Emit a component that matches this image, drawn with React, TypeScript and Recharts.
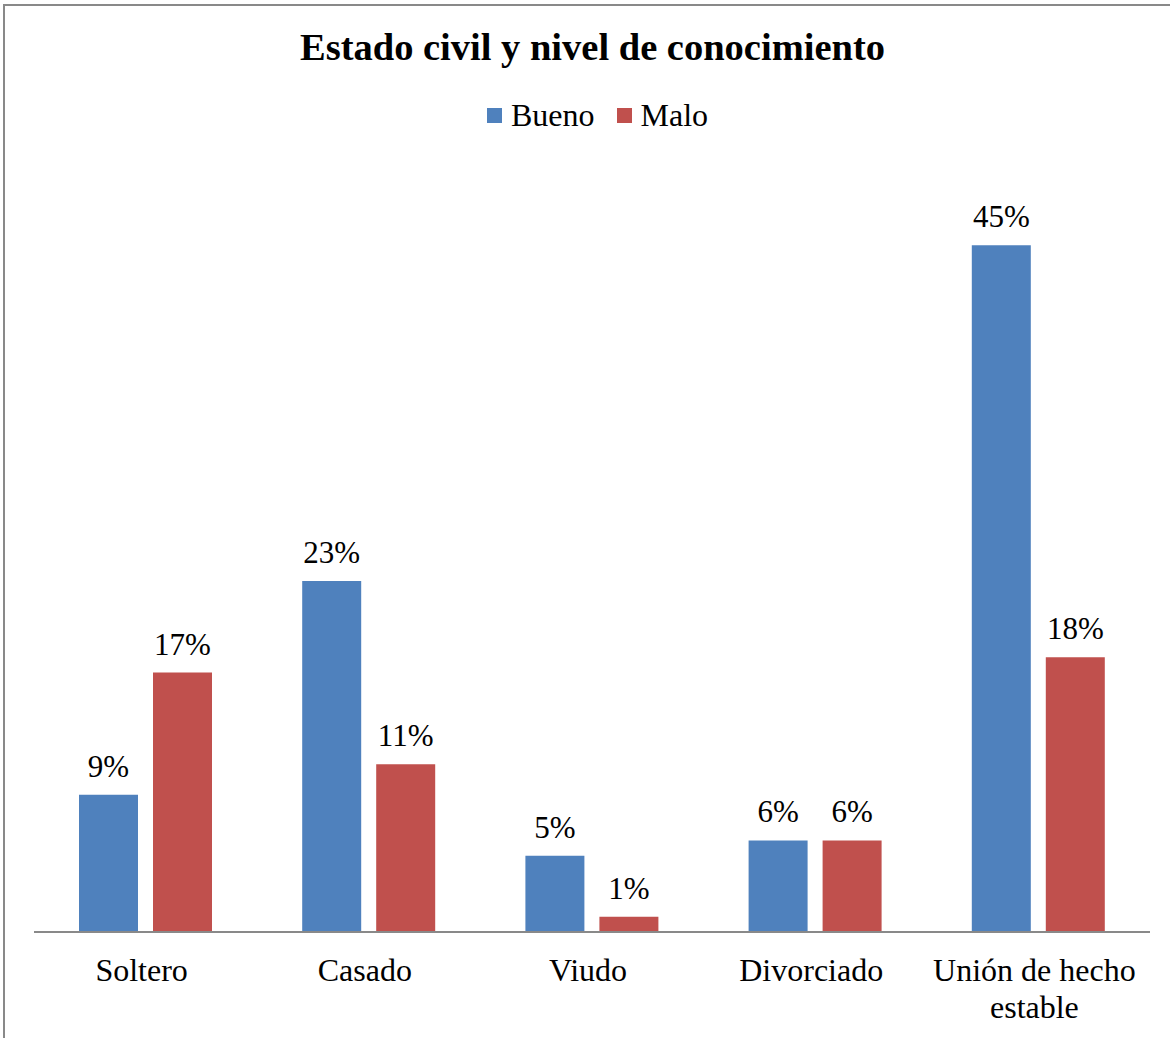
import { BarChart, Bar, XAxis, YAxis, LabelList } from 'recharts';

const categories = ['Soltero', 'Casado', 'Viudo', 'Divorciado', 'Unión de hecho estable'];
const bueno = [9, 23, 5, 6, 45];
const malo = [17, 11, 1, 6, 18];
const seriesNames = ['Bueno', 'Malo'];
const seriesColors = ['#4F81BD', '#C0504D'];

const data = categories.map((name, i) => ({ name, bueno: bueno[i], malo: malo[i] }));

const FONT = '"Liberation Serif", "Times New Roman", serif';

// wraps the long category name into two lines like the original
function CategoryTick(props: any) {
  const { y, payload } = props;
  const x = props.x - 4;
  const label: string = payload.value;
  const lines = label.length > 14 ? ['Unión de hecho', 'estable'] : [label];
  return (
    <text x={x} y={y} textAnchor="middle" fontFamily={FONT} fontSize={32} fill="#000">
      {lines.map((l, i) => (
        <tspan key={i} x={x} dy={i === 0 ? 41 : 37}>
          {l}
        </tspan>
      ))}
    </text>
  );
}

export default function App() {
  return (
    <div
      style={{
        position: 'absolute',
        left: 0,
        top: 0,
        width: 1170,
        height: 1038,
        overflow: 'hidden',
        background: '#fff',
        fontFamily: FONT,
      }}
    >
      {/* chart frame, only top and left edges are visible */}
      <div
        style={{
          position: 'absolute',
          left: 3,
          top: 4,
          width: 1300,
          height: 1200,
          borderTop: '2px solid #898989',
          borderLeft: '2px solid #898989',
        }}
      />
      <div
        style={{
          position: 'absolute',
          left: 0,
          width: 1185,
          top: 24,
          textAlign: 'center',
          fontSize: 38.5,
          fontWeight: 'bold',
          lineHeight: '46px',
          color: '#000',
        }}
      >
        Estado civil y nivel de conocimiento
      </div>
      <div
        style={{
          position: 'absolute',
          left: 487,
          top: 97,
          display: 'flex',
          alignItems: 'center',
          fontSize: 32,
          lineHeight: '36px',
          color: '#000',
        }}
      >
        {seriesNames.map((s, i) => (
          <div key={s} style={{ display: 'flex', alignItems: 'center', marginRight: 22 }}>
            <span
              style={{ width: 15, height: 15, background: seriesColors[i], display: 'inline-block', marginRight: 9 }}
            />
            <span>{s}</span>
          </div>
        ))}
      </div>
      <div style={{ position: 'absolute', left: 0, top: 0 }}>
        <BarChart
          width={1170}
          height={1038}
          data={data}
          margin={{ top: 169, right: 20, bottom: 46, left: 34 }}
          barGap={15}
          barSize={59}
        >
          <YAxis hide domain={[0, 50]} />
          <XAxis
            dataKey="name"
            axisLine={{ stroke: '#898989', strokeWidth: 2 }}
            tickLine={false}
            height={60}
            interval={0}
            tick={<CategoryTick />}
          />
          <Bar dataKey="bueno" fill={seriesColors[0]} isAnimationActive={false}>
            <LabelList
              dataKey="bueno"
              position="top"
              offset={18}
              formatter={(v: any) => `${v}%`}
              style={{ fontFamily: FONT, fontSize: 31, fill: '#000' }}
            />
          </Bar>
          <Bar dataKey="malo" fill={seriesColors[1]} isAnimationActive={false}>
            <LabelList
              dataKey="malo"
              position="top"
              offset={18}
              formatter={(v: any) => `${v}%`}
              style={{ fontFamily: FONT, fontSize: 31, fill: '#000' }}
            />
          </Bar>
        </BarChart>
      </div>
    </div>
  );
}
